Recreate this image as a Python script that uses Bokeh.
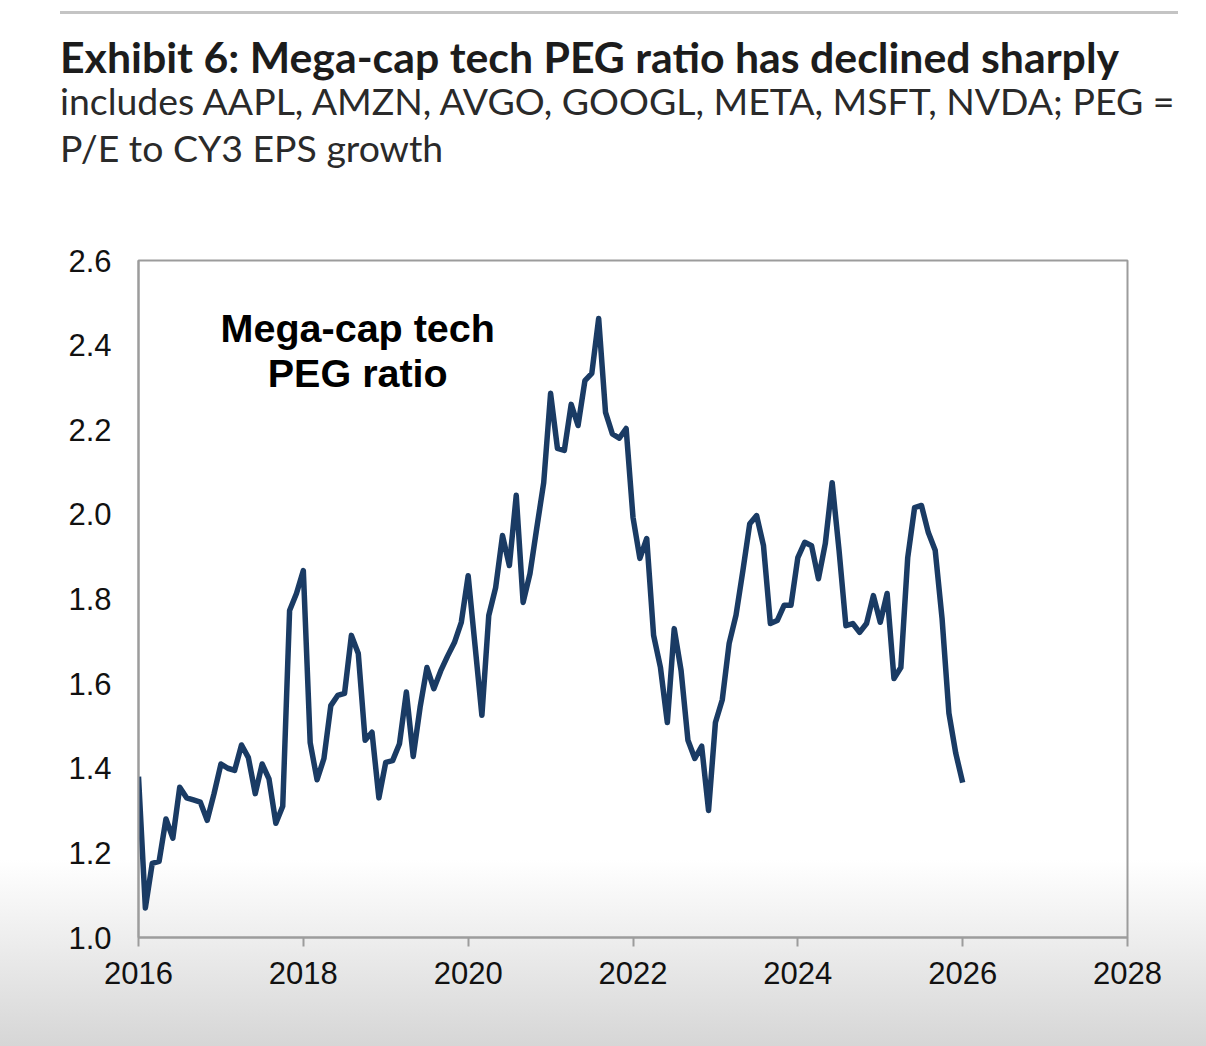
import pandas as pd
from bokeh.plotting import figure
from bokeh.models import Label, FixedTicker, PrintfTickFormatter, Range1d, ColumnDataSource, Div
from bokeh.layouts import column
from bokeh.embed import file_html
from bokeh.resources import INLINE

# ---- data (monthly, Jan 2016 .. Jan 2026) ----
dates = pd.date_range("2016-01-01", periods=121, freq="MS")
peg = [
    1.38, 1.07, 1.175, 1.18, 1.28, 1.235, 1.355, 1.33, 1.325, 1.32, 1.277, 1.34,   # 2016
    1.41, 1.40, 1.395, 1.455, 1.425, 1.34, 1.41, 1.375, 1.27, 1.31, 1.773, 1.813,  # 2017
    1.867, 1.46, 1.373, 1.423, 1.548, 1.572, 1.577, 1.714, 1.671, 1.466, 1.485, 1.33,  # 2018
    1.414, 1.418, 1.458, 1.58, 1.428, 1.544, 1.638, 1.588, 1.63, 1.665, 1.697, 1.745,  # 2019
    1.855, 1.69, 1.525, 1.761, 1.827, 1.95, 1.879, 2.045, 1.792, 1.86, 1.969, 2.075,  # 2020
    2.286, 2.156, 2.151, 2.26, 2.21, 2.316, 2.333, 2.463, 2.241, 2.19, 2.18, 2.203,  # 2021
    1.993, 1.896, 1.943, 1.714, 1.638, 1.508, 1.73, 1.631, 1.466, 1.423, 1.452, 1.30,  # 2022
    1.508, 1.562, 1.695, 1.762, 1.867, 1.978, 1.997, 1.926, 1.742, 1.749, 1.785, 1.785,  # 2023
    1.898, 1.934, 1.926, 1.848, 1.931, 2.075, 1.915, 1.737, 1.742, 1.721, 1.742, 1.808,  # 2024
    1.745, 1.813, 1.612, 1.638, 1.898, 2.016, 2.021, 1.957, 1.915, 1.754, 1.53, 1.435,  # 2025
    1.366,  # Jan 2026
]
x_ticks = [2016, 2018, 2020, 2022, 2024, 2026, 2028]
y_ticks = [1.0, 1.2, 1.4, 1.6, 1.8, 2.0, 2.2, 2.4, 2.6]
title_text = "Exhibit 6: Mega-cap tech PEG ratio has declined sharply"
subtitle_lines = ["includes AAPL, AMZN, AVGO, GOOGL, META, MSFT, NVDA; PEG =",
                  "P/E to CY3 EPS growth"]
annotation_lines = ["Mega-cap tech", "PEG ratio"]

years = [d.year + (d.month - 1) / 12 for d in dates]
src = ColumnDataSource(data=dict(x=years, y=peg))

# ---- header (title + subtitle) ----
header_html = (
    '<div style="position:relative;width:1206px;height:200px;background:#ffffff;">'
    '<div style="position:absolute;left:60px;top:11px;width:1118px;height:3px;background:#c4c4c4;"></div>'
    '<div style="position:absolute;left:60px;top:36px;white-space:nowrap;font-family:Lato;'
    'font-weight:bold;font-size:42.8px;line-height:1;color:#1c1c1c;">' + title_text + '</div>'
    '<div style="position:absolute;left:60px;top:82px;white-space:nowrap;font-family:Lato;'
    'font-size:37.4px;line-height:1;color:#2a2a2a;">' + subtitle_lines[0] + '</div>'
    '<div style="position:absolute;left:60px;top:129px;white-space:nowrap;font-family:Lato;'
    'font-size:37.4px;line-height:1;color:#2a2a2a;">' + subtitle_lines[1] + '</div>'
    '</div>'
)
header = Div(text=header_html, width=1206, height=200, margin=0)

p = figure(width=1206, height=846, output_backend="svg", toolbar_location=None,
           x_range=Range1d(x_ticks[0], x_ticks[-1]), y_range=Range1d(y_ticks[0], y_ticks[-1]),
           min_border_left=138, min_border_right=79, min_border_top=60, min_border_bottom=109,
           margin=0)
p.border_fill_color = None
p.background_fill_color = None
p.styles = {"background": "linear-gradient(to bottom, #ffffff 0%, #ffffff 78%, #d6d6d6 100%)"}

p.outline_line_color = "#9c9c9c"
p.outline_line_width = 2
p.grid.visible = False

p.line("x", "y", source=src, line_color="#1a3b64", line_width=5.5, line_join="round")

gray = "#9c9c9c"
for ax in (p.xaxis[0], p.yaxis[0]):
    ax.axis_line_color = gray
    ax.axis_line_width = 2
    ax.minor_tick_line_color = None
    ax.major_label_text_font = "Liberation Sans"
    ax.major_label_text_font_size = "31px"
    ax.major_label_text_color = "#111111"

p.xaxis.ticker = FixedTicker(ticks=x_ticks)
p.xaxis.formatter = PrintfTickFormatter(format="%d")
p.xaxis.major_tick_line_color = gray
p.xaxis.major_tick_line_width = 2
p.xaxis.major_tick_out = 9
p.xaxis.major_tick_in = 0
p.xaxis.major_label_standoff = 15

p.yaxis.ticker = FixedTicker(ticks=y_ticks)
p.yaxis.formatter = PrintfTickFormatter(format="%.1f")
p.yaxis.major_tick_line_color = None
p.yaxis.major_tick_out = 0
p.yaxis.major_tick_in = 0
p.yaxis.major_label_standoff = 27

# in-chart annotation
for line, yv in zip(annotation_lines, [2.440, 2.334]):
    p.add_layout(Label(x=2018.66, y=yv, text=line, text_font="Liberation Sans",
                       text_font_style="bold", text_font_size="39.5px", text_color="#000000",
                       text_align="center", text_baseline="alphabetic"))

layout = column(header, p, spacing=0, margin=0)
open("out.html", "w").write(file_html(layout, INLINE))
